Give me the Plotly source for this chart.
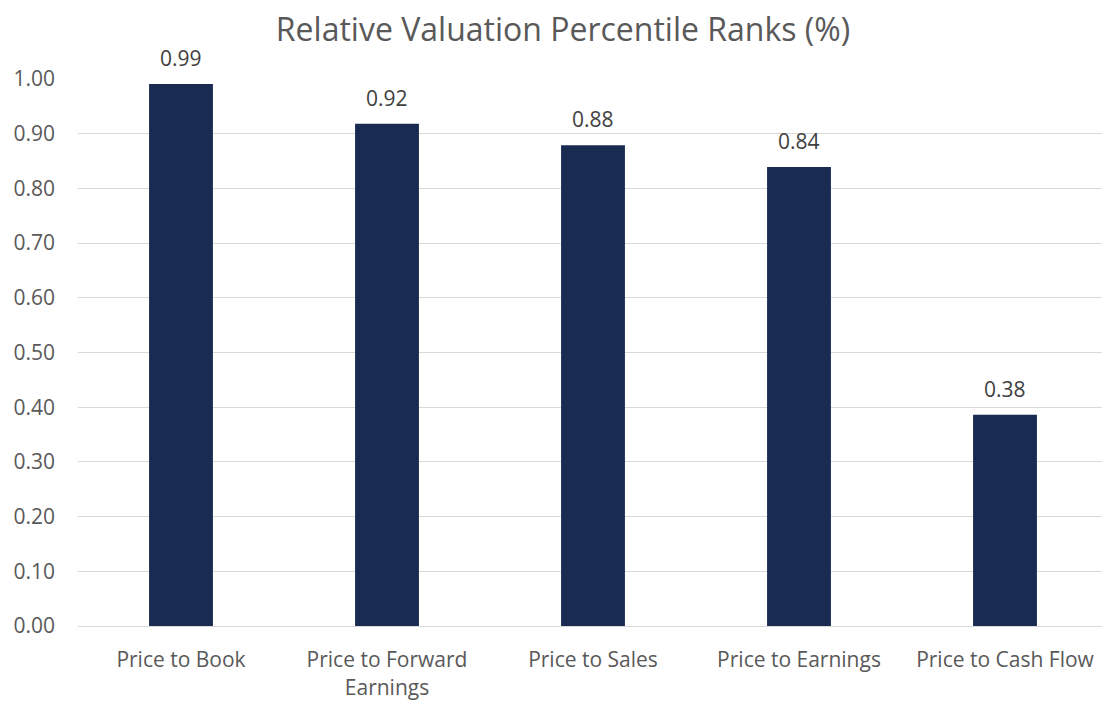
import plotly.graph_objects as go

categories = ["Price to Book", "Price to Forward<br>Earnings", "Price to Sales", "Price to Earnings", "Price to Cash Flow"]
values = [0.991, 0.918, 0.879, 0.839, 0.386]
labels = ["0.99", "0.92", "0.88", "0.84", "0.38"]
y_ticks = [0.0, 0.1, 0.2, 0.3, 0.4, 0.5, 0.6, 0.7, 0.8, 0.9, 1.0]

FONT = "Open Sans"
fig = go.Figure(go.Bar(
    x=categories, y=values,
    marker=dict(color="#1A2B52", line=dict(width=0)),
    cliponaxis=False, hoverinfo="x+y",
))
for c, v, t in zip(categories, values, labels):
    fig.add_annotation(x=c, y=v, text=t, showarrow=False, yanchor="middle", yshift=26,
                       font=dict(family=FONT, size=21, color="#404040"))
fig.update_layout(
    width=1110, height=704,
    margin=dict(l=70, r=10, t=71, b=86, autoexpand=False),
    paper_bgcolor="white", plot_bgcolor="white",
    bargap=0.69,
    showlegend=False,
    title=dict(text="Relative Valuation Percentile Ranks (%)", x=0.5, xanchor="center",
               y=0.969, yanchor="middle",
               font=dict(family=FONT, size=32, color="#595959")),
    font=dict(family=FONT, size=21, color="#595959"),
)
fig.update_yaxes(range=[0, 1.0], tickvals=y_ticks, tickformat=".2f",
                 showgrid=True, gridcolor="#D9D9D9", gridwidth=1.3, automargin=False,
                 zeroline=False, showline=False, ticks="", ticklabelstandoff=22,
                 tickfont=dict(family=FONT, size=21, color="#595959"))
fig.update_xaxes(showline=True, linecolor="#D9D9D9", linewidth=1.3, ticks="", automargin=False,
                 tickfont=dict(family=FONT, size=21, color="#595959"), ticklabelstandoff=15)
fig.write_html("out.html")
